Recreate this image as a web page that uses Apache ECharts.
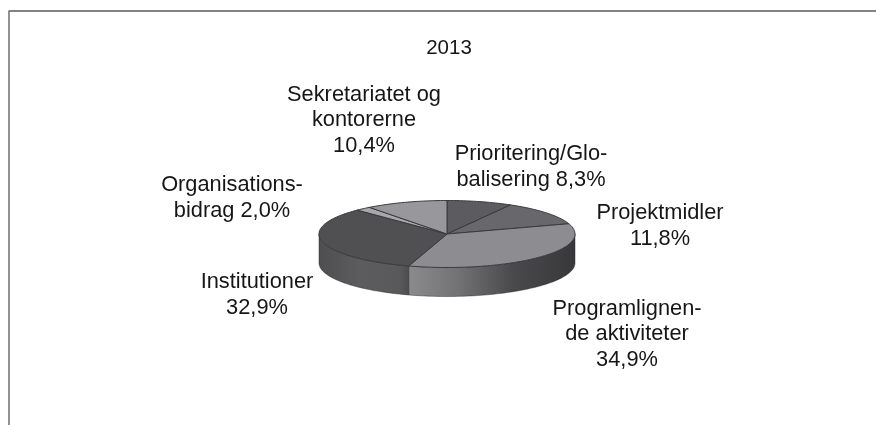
<!DOCTYPE html>
<html>
<head>
<meta charset="utf-8">
<style>html,body{margin:0;padding:0;background:#fff}#c{width:876px;height:425px}</style>
<script src="https://cdn.jsdelivr.net/npm/echarts@6/dist/echarts.min.js"></script>
</head>
<body>
<div id="c"></div>
<script>
const title = '2013';
const categories = ['Prioritering/Glo-\nbalisering', 'Projektmidler', 'Programlignen-\nde aktiviteter', 'Institutioner', 'Organisations-\nbidrag', 'Sekretariatet og\nkontorerne'];
const shares = [8.3, 11.8, 34.9, 32.9, 2.0, 10.4];
const valueLabels = ['8,3%', '11,8%', '34,9%', '32,9%', '2,0%', '10,4%'];
const labelJoin = [' ', '\n', '\n', '\n', ' ', '\n'];

const topColors = ['#5c5c60', '#68686c', '#8d8d91', '#505053', '#a8a8aa', '#98989c'];
const sideStops = [
  null, null,
  [[0, '#8b8b8e'], [0.3, '#727275'], [0.62, '#4a4a4d'], [1, '#38383a']],
  [[0, '#4e4e50'], [0.45, '#5c5c5e'], [0.9, '#59595b'], [1, '#4c4c4e']],
  null, null
];
const labelAnchors = [[531, 167], [660, 226], [627, 334], [257, 295], [232, 198], [364, 120]];
const cx = 447, cy = 234, rx = 128, ry = 33.5, depth = 29;
const total = shares.reduce((a, b) => a + b, 0);

function pt(deg, dy) {
  const a = deg * Math.PI / 180;
  return [cx + rx * Math.sin(a), cy - ry * Math.cos(a) + (dy || 0)];
}
function arc(from, to, dy) {
  const out = [];
  const n = Math.max(2, Math.ceil(Math.abs(to - from) / 1.5));
  for (let i = 0; i <= n; i++) out.push(pt(from + (to - from) * i / n, dy));
  return out;
}
function renderSlice(params, api) {
  const i = params.dataIndex;
  let before = 0;
  for (let k = 0; k < i; k++) before += shares[k];
  const start = before / total * 360;
  const end = start + api.value(1) / total * 360;
  const children = [];
  const sFrom = Math.max(start, 90), sTo = Math.min(end, 270);
  if (sTo > sFrom && sideStops[i]) {
    const pts = arc(sFrom, sTo, 0).concat(arc(sTo, sFrom, depth));
    const stops = sideStops[i].map(s => ({offset: s[0], color: s[1]}));
    children.push({
      type: 'polygon', z2: 1, shape: {points: pts},
      style: {
        fill: new echarts.graphic.LinearGradient(0, 0, 1, 0, stops),
        stroke: 'rgba(35,35,38,0.55)', lineWidth: 0.8
      }
    });
  }
  children.push({
    type: 'polygon', z2: 2,
    shape: {points: [[cx, cy]].concat(arc(start, end, 0))},
    style: {fill: topColors[i], stroke: '#3a3a3d', lineWidth: 1, lineJoin: 'round'}
  });
  const a = labelAnchors[i];
  children.push({
    type: 'text', z2: 5, x: a[0], y: a[1],
    style: {
      text: categories[i] + labelJoin[i] + valueLabels[i],
      font: '21.8px "Liberation Sans", Arial, sans-serif',
      fill: '#161616', align: 'center', verticalAlign: 'middle', lineHeight: 25.5
    }
  });
  return {type: 'group', children};
}

const chart = echarts.init(document.getElementById('c'), null, {renderer: 'canvas'});
chart.setOption({
  animation: false,
  backgroundColor: '#ffffff',
  title: {
    text: title, left: 444, top: 33, textAlign: 'center',
    textStyle: {fontFamily: '"Liberation Sans", Arial, sans-serif', fontSize: 20.5, fontWeight: 'normal', color: '#161616'}
  },
  graphic: [
    {type: 'line', shape: {x1: 8.5, y1: 11, x2: 876, y2: 11}, style: {stroke: '#5a5a5a', lineWidth: 1.5}},
    {type: 'line', shape: {x1: 9, y1: 11, x2: 9, y2: 425}, style: {stroke: '#777777', lineWidth: 1.6}}
  ],
  series: [{
    type: 'custom',
    coordinateSystem: 'none',
    renderItem: renderSlice,
    data: shares.map((v, i) => [i, v]),
    silent: true
  }]
});
</script>
</body>
</html>
